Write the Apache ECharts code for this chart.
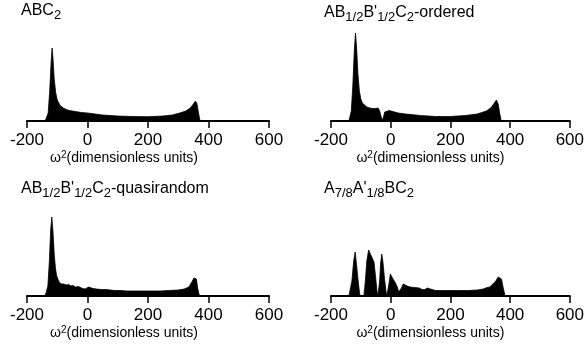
<!DOCTYPE html>
<html>
<head>
<meta charset="utf-8">
<script src="https://cdn.jsdelivr.net/npm/echarts@6/dist/echarts.min.js"></script>
<style>html,body{margin:0;padding:0;background:#fff;}#c{width:587px;height:345px;}</style>
</head>
<body>
<div id="c"></div>
<script>
// omega^2 (dimensionless units) and density of states (arbitrary units)
const abc2X = [-140,-135,-130,-125,-120,-117,-114,-110,-105,-100,-95,-90,-80,-70,-60,-40,-20,0,25,50,100,150,200,250,280,305,325,340,350,357,362,367,372,380];
const abc2Y = [0,0,8,30,60,73,62,42,28,21,18,15.5,13,11.5,10.5,9.5,8.5,8,7,6,5,4.5,4.3,5,6,8,10,13,17,20,17,8,0,0];

const orderedX = [-140,-136,-132,-127,-122,-118,-114,-110,-105,-100,-95,-90,-80,-70,-60,-50,-42,-37,-32,-28,-24,-20,-15,-5,0,25,50,100,150,200,250,290,320,335,345,354,360,365,370,380];
const orderedY = [0,0,10,35,70,88,72,48,30,22,18,16,14,13,12.5,12.5,13,10,4,1,4,9,11,10.5,10,8,7,5.5,4.5,4.5,5.5,7,10,13,17,21,17,8,0,0];

const quasiX = [-140,-135,-131,-126,-122,-118,-114,-110,-106,-102,-98,-94,-90,-86,-82,-78,-74,-70,-62,-55,-48,-40,-30,-24,-16,-8,-2,4,10,18,30,45,60,75,90,110,130,160,200,240,270,300,320,335,345,352,356,360,364,370,380];
const quasiY = [0,0,10,35,65,79,64,42,28,20,18,14,15,12,11,12,12,11,11.5,10,10.5,9,9.5,8.5,7.5,7,7.5,9,8.5,7.5,7,6.5,6.5,6,5.5,5.5,5,5,5,5,5.5,6,7,9,14,18,20,17,8,0,0];

const a78X = [-140,-136,-130,-124,-119,-114,-108,-103,-90,-85,-80,-74,-68,-62,-56,-51,-46,-43,-40,-37,-34,-30,-26,-21,-16,-13,-10,-6,-1,4,10,16,22,27,31,36,42,48,55,65,80,95,105,115,122,128,150,180,220,260,290,310,318,324,332,342,352,360,366,371,377,383,390];
const a78Y = [0,0,15,35,44,30,12,0,0,15,35,46,42,38,34,20,5,0,0,15,32,42,34,18,5,0,0,12,22,19,16,13,9,4,3,8,12,11,10,9,8.5,8,6.5,6.5,8,6,5.5,5.5,5.5,5.5,6,7,8,6.5,9,12,15,19,20.5,17,8,0,0];

const tickValues = [-200, 0, 200, 400, 600];

const titles = [
  '{m|ABC}{s|2}',
  '{m|AB}{s|1/2}{m|B\'}{s|1/2}{m|C}{s|2}{m|-ordered}',
  '{m|AB}{s|1/2}{m|B\'}{s|1/2}{m|C}{s|2}{m|-quasirandom}',
  '{m|A}{s|7/8}{m|A\'}{s|1/8}{m|BC}{s|2}'
];
const xName = '{w|ω}{p|2}{n|(dimensionless units)}';

const FONT = '"Liberation Sans", Arial, Helvetica, sans-serif';
const panels = [
  {x: abc2X, y: abc2Y, left: 27, width: 242, top: 31, tl: 21, tt: 3, shift: 48},
  {x: orderedX, y: orderedY, left: 331, width: 244, top: 31, tl: 324, tt: 5, shift: 40},
  {x: quasiX, y: quasiY, left: 27, width: 242, top: 206, tl: 21, tt: 181, shift: 48},
  {x: a78X, y: a78Y, left: 331, width: 244, top: 206, tl: 324, tt: 181, shift: 40}
];

const titleRich = {
  m: {fontSize: 16, lineHeight: 16, fontFamily: FONT, fontWeight: 'normal', color: '#000', verticalAlign: 'top'},
  s: {fontSize: 13, lineHeight: 13, fontFamily: FONT, fontWeight: 'normal', color: '#000', padding: [8, 0, 0, 0]}
};

const option = {
  backgroundColor: '#fff',
  animation: false,
  title: panels.map((p, i) => ({
    text: titles[i], left: p.tl, top: p.tt, padding: 0,
    textStyle: {fontWeight: 'normal', rich: titleRich}
  })),
  grid: panels.map(p => ({left: p.left, width: p.width, top: p.top, height: 90})),
  xAxis: panels.map((p, i) => ({
    type: 'value', gridIndex: i, min: tickValues[0], max: tickValues[tickValues.length - 1], interval: 200,
    splitLine: {show: false},
    axisLine: {show: true, onZero: false, lineStyle: {color: '#000', width: 2}},
    axisTick: {show: true, length: 7, lineStyle: {color: '#000', width: 1.5}},
    axisLabel: {color: '#000', fontSize: 17, fontFamily: FONT, margin: 11,
      formatter: v => tickValues.indexOf(v) >= 0 ? String(v) : ''},
    name: xName, nameLocation: 'middle', nameGap: 26,
    nameTextStyle: {padding: [0, p.shift, 0, 0], rich: {
      w: {fontSize: 14, lineHeight: 14, fontFamily: FONT, color: '#000', verticalAlign: 'bottom'},
      p: {fontSize: 10, lineHeight: 10, fontFamily: FONT, color: '#000', padding: [0, 0, 7, 0]},
      n: {fontSize: 14, lineHeight: 14, fontFamily: FONT, color: '#000', verticalAlign: 'bottom'}
    }}
  })),
  yAxis: panels.map((p, i) => ({type: 'value', gridIndex: i, min: 0, max: 90, show: false})),
  series: panels.map((p, i) => ({
    type: 'line', xAxisIndex: i, yAxisIndex: i, showSymbol: false, symbol: 'none',
    data: p.x.map((v, k) => [v, p.y[k]]),
    lineStyle: {color: '#000', width: 0.8},
    areaStyle: {color: '#000', opacity: 1}
  }))
};
echarts.init(document.getElementById('c'), null, {renderer: 'canvas'}).setOption(option);
</script>
</body>
</html>
